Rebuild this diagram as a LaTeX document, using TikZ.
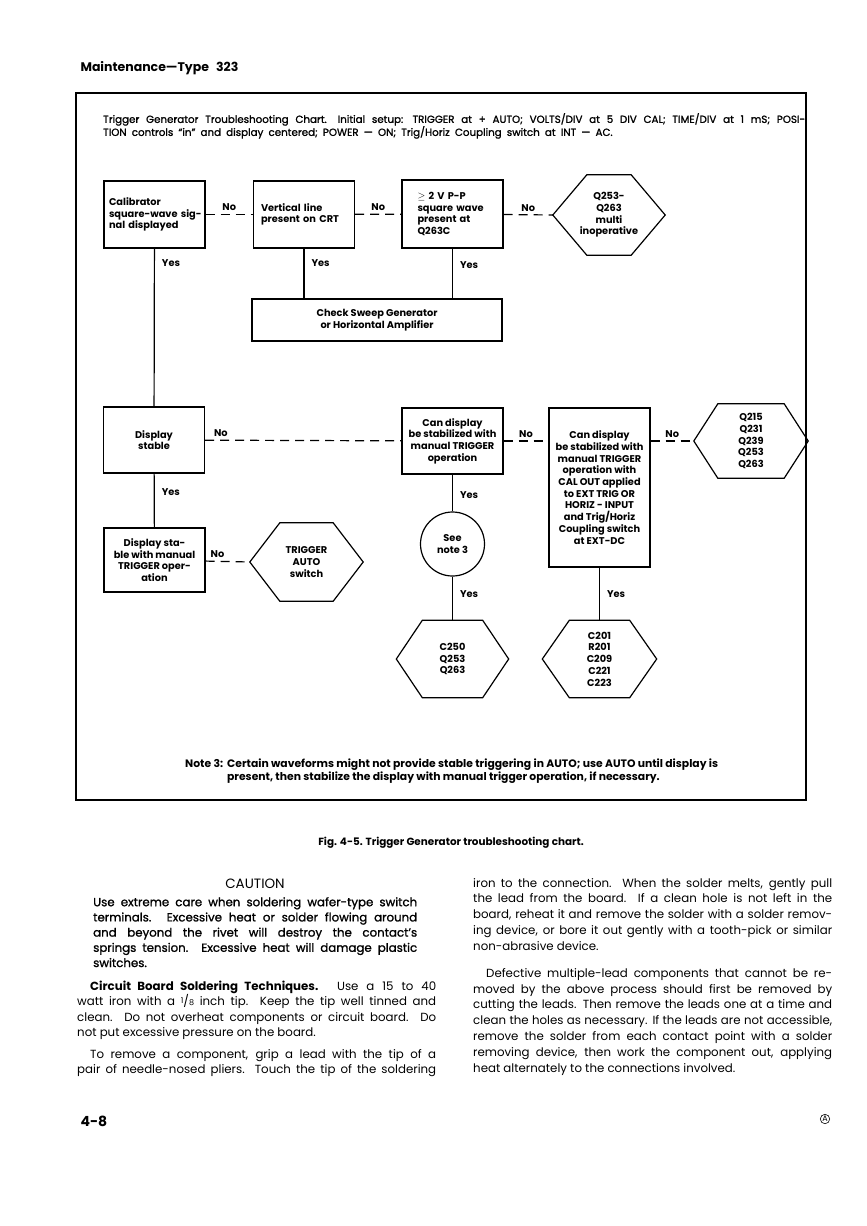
\documentclass[tikz,border=0pt]{standalone}
\usepackage{fontspec}
\setmainfont{Poppins}
\newfontfamily\medfont[FakeBold=1.2]{Poppins}
\usetikzlibrary{calc}

\newcommand{\chartfont}{\fontsize{9.8}{11.7}\selectfont\bfseries}
\newcommand{\titlefont}{\medfont\fontsize{10.3}{13}\selectfont\spaceskip=0.5em plus 0.4em minus 0.1em}
\newcommand{\bodyfont}{\fontsize{11.8}{15.2}\selectfont}
\newcommand{\jl}[1]{\makebox[\linewidth][s]{#1}}
% hexagon: name, centre, width, height, inset, text
\newcommand{\hexbox}[6]{%
  \node[hexa, minimum width=#3, minimum height=#4] (#1) at (#2) {#6};
  \draw[edge] (#1.west) -- ([xshift=#5]#1.north west) -- ([xshift=-#5]#1.north east)
    -- (#1.east) -- ([xshift=-#5]#1.south east) -- ([xshift=#5]#1.south west) -- cycle;}

\tikzset{
  edge/.style={line width=1.2pt, line join=miter},
  box/.style={draw, line width=1.2pt, inner xsep=1pt, inner ysep=2pt, minimum width=101pt,
    font=\chartfont, align=center},
  hexa/.style={inner sep=0pt, font=\chartfont, align=center},
  ring/.style={draw, circle, line width=1.2pt, minimum size=64pt, inner sep=0pt,
    font=\chartfont, align=center},
  yesline/.style={line width=1.2pt},
  noline/.style={line width=1.2pt, dash pattern=on 9pt off 6pt},
  nolbl/.style={above=2pt, inner sep=1pt, font=\chartfont},
  yeslbl/.style={right=6pt, inner sep=1pt, font=\chartfont},
  para/.style={anchor=north west, inner sep=0pt, align=justify, font=\bodyfont}
}

\begin{document}
\begin{tikzpicture}[x=1pt,y=-1pt]
  \useasboundingbox (0,0) rectangle (867,1226);
  % running head
  \node[anchor=west, font=\fontsize{12.5}{12.5}\selectfont\bfseries] (head) at (77,68) {Maintenance—Type\hspace{7pt}323};
  % chart frame and setup text
  \draw[line width=1.4pt] (76,93) rectangle (806,800);
  \node[anchor=north west, text width=702pt, align=justify, inner sep=0pt, font=\titlefont] (setup) at (103,113)
    {Trigger Generator Troubleshooting Chart. Initial setup: TRIGGER at + AUTO; VOLTS/DIV at 5 DIV CAL; TIME/DIV at 1 mS; POSI-\linebreak
     TION controls “in” and display centered; POWER — ON; Trig/Horiz Coupling switch at INT — AC.};

  % top row
  \node[box, minimum height=67pt, text width=91pt, align=left] (cal) at (154.5,214.5)
    {Calibrator\\\jl{square-wave sig-}\\nal displayed};
  \node[box, minimum height=67pt, text width=86pt, align=left] (vert) at (304,214.5)
    {Vertical line\\present on CRT};
  \node[box, minimum height=68pt, text width=70pt, align=left] (twov) at (452.5,214)
    {\jl{$\geq$ 2 V P-P}\\\jl{square wave}\\present at\\Q263C};
  \hexbox{multi}{609,215}{112pt}{80pt}{34pt}{Q253-\\Q263\\multi\\inoperative}
  \node[box, minimum width=250pt, minimum height=42pt] (sweep) at (377,320)
    {Check Sweep Generator\\or Horizontal Amplifier};

  \draw[noline] (cal) -- node[nolbl]{No} (vert);
  \draw[noline] (vert) -- node[nolbl]{No} (twov);
  \draw[noline] (twov) -- node[nolbl]{No} (multi.west);
  \draw[yesline] (vert.south) -- node[yeslbl, pos=.3]{Yes} (vert.south |- sweep.north);
  \draw[yesline] (twov.south) -- node[yeslbl, pos=.33]{Yes} (twov.south |- sweep.north);

  % middle row
  \node[box, minimum height=66pt] (stable) at (154,440) {Display\\stable};
  \node[box, minimum height=66pt] (cdisp) at (452.5,441)
    {Can display\\be stabilized with\\manual TRIGGER\\operation};
  \node[box, minimum height=159pt] (cext) at (599.5,487.5)
    {Can display\\be stabilized with\\manual TRIGGER\\operation with\\CAL OUT applied\\to EXT TRIG OR\\HORIZ - INPUT\\and Trig/Horiz\\Coupling switch\\at EXT-DC};
  \hexbox{qlist}{751,441}{114pt}{74pt}{24pt}{Q215\\Q231\\Q239\\Q253\\Q263}

  \draw[yesline] (cal) -- node[yeslbl, pos=.09]{Yes} (stable);
  \draw[noline] (stable) -- node[nolbl, pos=.08]{No} (cdisp);
  \draw[noline] (cdisp.east) -- node[nolbl]{No} (cdisp.east -| cext.west);
  \draw[noline] (qlist.west -| cext.east) -- node[nolbl]{No} (qlist.west);

  % lower rows
  \node[box, minimum height=64pt] (manual) at (154.5,560)
    {Display sta-\\ble with manual\\TRIGGER oper-\\ation};
  \hexbox{auto}{306.5,562}{113pt}{78pt}{30pt}{TRIGGER\\AUTO\\switch}
  \node[ring] (note3) at (452.5,544) {See\\note 3};
  \hexbox{cset}{452.5,659}{112pt}{77pt}{26pt}{C250\\Q253\\Q263}
  \hexbox{rset}{599.5,659}{114pt}{77pt}{27pt}{C201\\R201\\C209\\C221\\C223}

  \draw[yesline] (stable) -- node[yeslbl, pos=.35]{Yes} (manual);
  \draw[noline] (manual) -- node[nolbl, pos=.27]{No} (auto.west);
  \draw[yesline] (cdisp) -- node[yeslbl, pos=.55]{Yes} (note3);
  \draw[yesline] (note3) -- node[yeslbl, pos=.4]{Yes} (cset.north);
  \draw[yesline] (cext) -- node[yeslbl, pos=.5]{Yes} (rset.north);

  % note under the chart
  \node[anchor=north west, inner sep=0pt, font=\fontsize{10.8}{13}\selectfont\bfseries] (note) at (185,758)
    {\begin{tabular}{@{}l@{\hspace{4pt}}l@{}}
     Note 3: & Certain waveforms might not provide stable triggering in AUTO; use AUTO until display is\\
             & present, then stabilize the display with manual trigger operation, if necessary.
     \end{tabular}};
  \node[font=\fontsize{10.4}{10}\selectfont\bfseries] (caption) at (451,843)
    {Fig. 4-5. Trigger Generator troubleshooting chart.};

  % left column
  \node[font=\fontsize{13.5}{14}\selectfont] (caution) at (255,884) {CAUTION};
  \node[para, text width=324pt, font=\medfont\bodyfont] (cauttext) at (93,897)
    {Use extreme care when soldering wafer-type switch\linebreak
     terminals. Excessive heat or solder flowing around\linebreak
     and beyond the rivet will destroy the contact’s\linebreak
     springs tension. Excessive heat will damage plastic\linebreak
     switches.};
  \node[para, text width=359pt] (solder) at (77,981)
    {\noindent\hspace*{13pt}\textbf{Circuit Board Soldering Techniques.} Use a 15 to 40\linebreak
     watt iron with a {\footnotesize\raisebox{.5ex}{1}}/{\footnotesize 8} inch tip. Keep the tip well tinned and\linebreak
     clean. Do not overheat components or circuit board. Do\linebreak
     not put excessive pressure on the board.};
  \node[para, text width=359pt] (remove) at (77,1049)
    {\parfillskip=0pt\noindent\hspace*{13pt}To remove a component, grip a lead with the tip of a\linebreak
     pair of needle-nosed pliers. Touch the tip of the soldering\par};

  % right column
  \node[para, text width=359pt, font=\fontsize{11.8}{15.8}\selectfont] (iron) at (473,878)
    {\noindent iron to the connection. When the solder melts, gently pull\linebreak
     the lead from the board. If a clean hole is not left in the\linebreak
     board, reheat it and remove the solder with a solder remov-\linebreak
     ing device, or bore it out gently with a tooth-pick or similar\linebreak
     non-abrasive device.};
  \node[para, text width=359pt, font=\fontsize{11.8}{15.8}\selectfont] (defect) at (473,968)
    {\noindent\hspace*{13pt}Defective multiple-lead components that cannot be re-\linebreak
     moved by the above process should first be removed by\linebreak
     cutting the leads. Then remove the leads one at a time and\linebreak
     clean the holes as necessary. If the leads are not accessible,\linebreak
     remove the solder from each contact point with a solder\linebreak
     removing device, then work the component out, applying\linebreak
     heat alternately to the connections involved.};

  % page foot
  \node[anchor=west, font=\fontsize{14}{14}\selectfont\bfseries] (pgno) at (77,1121) {4-8};
  \node[draw, circle, line width=0.6pt, inner sep=0.6pt, font=\fontsize{8}{8}\selectfont] (rev) at (825,1119) {A};
\end{tikzpicture}
\end{document}
